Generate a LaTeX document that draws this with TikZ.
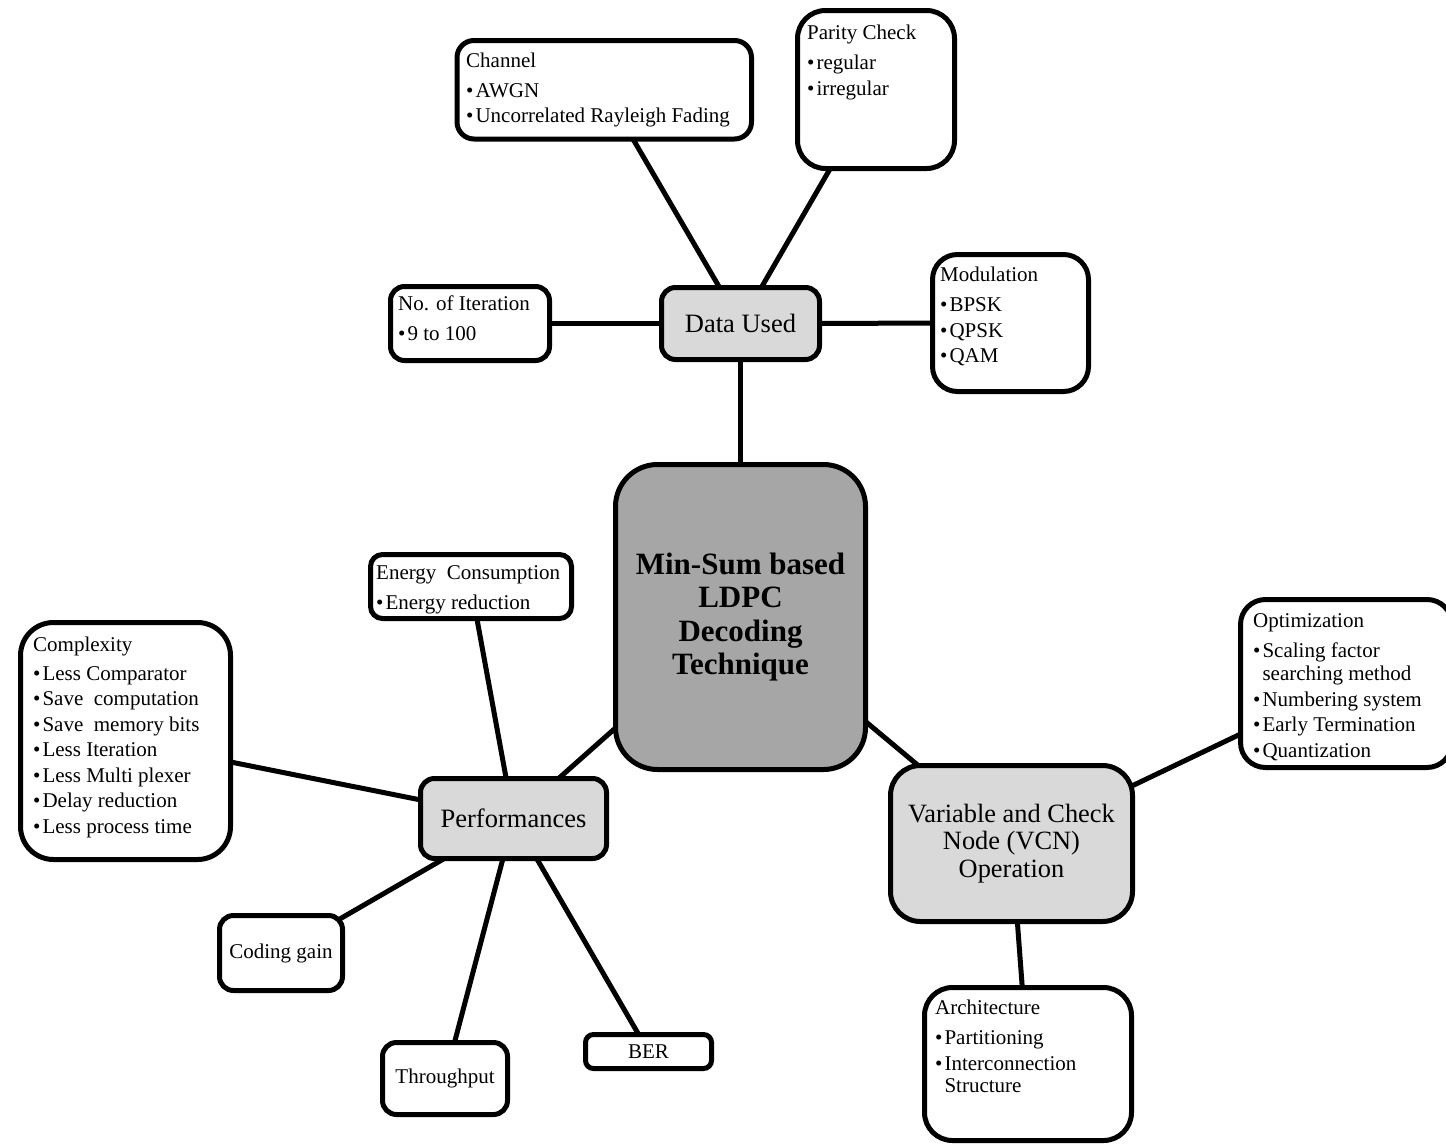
\documentclass[tikz,border=0pt]{standalone}
\usepackage{fontspec}
\setmainfont{Liberation Serif}
\usetikzlibrary{backgrounds}
\definecolor{lightg}{HTML}{D9D9D9}
\definecolor{darkg}{HTML}{A6A6A6}
\newcommand\bul{\textbullet\hspace{2pt}}
\begin{document}
\begin{tikzpicture}[x=1pt,y=-1pt,
  box/.style={draw=black, line width=5pt, rectangle, fill=white, inner sep=0pt, align=center},
  txt/.style={anchor=base west, inner sep=0pt, font=\fontsize{21}{25.5}\selectfont},
  small/.style={font=\fontsize{21}{25.5}\selectfont},
  mid/.style={font=\fontsize{26.5}{27.5}\selectfont},
  conn/.style={draw=black, line width=5pt}]
\useasboundingbox (0,0) rectangle (1446,1146);
\clip (0,0) rectangle (1446,1146);

% boxes
\node[box, rounded corners=17pt, minimum width=294.5pt, minimum height=98.5pt] (chan) at (604.25,89.75) {};
\node[box, rounded corners=28pt, minimum width=157pt, minimum height=158pt] (par) at (876,89.5) {};
\node[box, rounded corners=14pt, minimum width=159pt, minimum height=74pt] (iter) at (470,323.5) {};
\node[box, rounded corners=14pt, fill=lightg, minimum width=158pt, minimum height=72pt, mid] (data) at (740.5,323.5) {Data Used};
\node[box, rounded corners=25pt, minimum width=156pt, minimum height=137pt] (mod) at (1010.5,323) {};
\node[box, rounded corners=42pt, fill=darkg, minimum width=250pt, minimum height=305pt, font=\fontsize{31}{33.3}\selectfont\bfseries] (core) at (740.5,617) {Min-Sum based\\LDPC\\Decoding\\Technique};
\node[box, rounded corners=12pt, minimum width=201pt, minimum height=64pt] (energy) at (471,586.5) {};
\node[box, rounded corners=33pt, minimum width=210pt, minimum height=237pt] (cplx) at (125.5,741) {};
\node[box, rounded corners=14pt, fill=lightg, minimum width=186pt, minimum height=80pt, mid] (perf) at (513.5,818.5) {Performances};
\node[box, rounded corners=25pt, minimum width=211.5pt, minimum height=168pt] (opt) at (1346.25,683.5) {};
\node[box, rounded corners=30pt, fill=lightg, minimum width=242pt, minimum height=156pt, font=\fontsize{26.4}{27.5}\selectfont] (vcn) at (1011.5,843.5) {Variable and Check\\Node (VCN)\\Operation};
\node[box, rounded corners=28pt, minimum width=207pt, minimum height=153pt] (arch) at (1028,1064) {};
\node[box, rounded corners=14pt, minimum width=123pt, minimum height=75pt, small] (coding) at (281,953) {Coding gain};
\node[box, rounded corners=14pt, minimum width=125pt, minimum height=72pt, small] (thru) at (445,1078.5) {Throughput};
\node[box, rounded corners=8pt, minimum width=126pt, minimum height=34pt, small] (ber) at (648.5,1051.5) {BER};

% box texts
\node[txt] (chanT) at (466,67) {\begin{tabular}[t]{@{}l@{}}Channel\\[4.5pt]\bul AWGN\\\bul Uncorrelated Rayleigh Fading\end{tabular}};
\node[txt] (parT) at (807,39.5) {\begin{tabular}[t]{@{}l@{}}Parity Check\\[4.5pt]\bul regular\\\bul irregular\end{tabular}};
\node[txt] (iterT) at (398,310) {\begin{tabular}[t]{@{}l@{}}No. of Iteration\\[4.5pt]\bul 9 to 100\end{tabular}};
\node[txt] (modT) at (940,281) {\begin{tabular}[t]{@{}l@{}}Modulation\\[5pt]\bul BPSK\\\bul QPSK\\\bul QAM\end{tabular}};
\node[txt] (energyT) at (376,579) {\begin{tabular}[t]{@{}l@{}}Energy\ \ Consumption\\[4.5pt]\bul Energy reduction\end{tabular}};
\node[txt] (cplxT) at (33,651) {\begin{tabular}[t]{@{}l@{}}Complexity\\[3.5pt]\bul Less Comparator\\\bul Save\ \ computation\\\bul Save\ \ memory bits\\\bul Less Iteration\\\bul Less Multi plexer\\\bul Delay reduction\\\bul Less process time\end{tabular}};
\node[txt] (optT) at (1253,627) {\begin{tabular}[t]{@{}l@{}}Optimization\\[4.5pt]\bul Scaling factor\\[-2pt]\phantom{\bul}searching method\\\bul Numbering system\\\bul Early Termination\\\bul Quantization\end{tabular}};
\node[txt] (archT) at (935,1014) {\begin{tabular}[t]{@{}l@{}}Architecture\\[5pt]\bul Partitioning\\\bul Interconnection\\[-3pt]\phantom{\bul}Structure\end{tabular}};

% connectors
\begin{scope}[on background layer]
\draw[conn] (data.center) -- (chan.center);
\draw[conn] (data.center) -- (par.center);
\draw[conn] (data.center) -- (iter.center);
\draw[conn] (data.center) -- (mod.center);
\draw[conn] (data.center) -- (core.center);
\draw[conn] (core.center) -- (perf.center);
\draw[conn] (core.center) -- (vcn.center);
\draw[conn] (perf.center) -- (energy.center);
\draw[conn] (perf.center) -- (cplx.center);
\draw[conn] (perf.center) -- (coding.center);
\draw[conn] (perf.center) -- (thru.center);
\draw[conn] (perf.center) -- (ber.center);
\draw[conn] (vcn.center) -- (opt.center);
\draw[conn] (vcn.center) -- (arch.center);
\end{scope}
\end{tikzpicture}
\end{document}
